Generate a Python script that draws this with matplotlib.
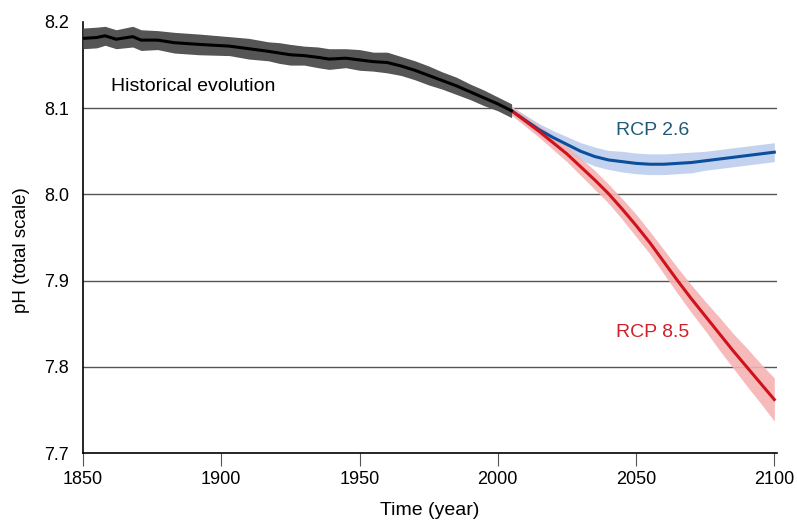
import matplotlib
matplotlib.use("Agg")
import matplotlib.pyplot as plt
import numpy as np

plt.rcParams['font.family'] = ['Liberation Sans', 'DejaVu Sans']

# Historical pH (1850-2005)
hist_years = [1850, 1855, 1858, 1862, 1868, 1871, 1877, 1883, 1892, 1903, 1910, 1917,
              1921, 1925, 1930, 1935, 1939, 1945, 1950, 1955, 1960, 1965, 1970, 1975,
              1980, 1985, 1990, 1995, 2000, 2005]
hist_ph = [8.181, 8.182, 8.184, 8.180, 8.183, 8.179, 8.179, 8.176, 8.174, 8.172, 8.169, 8.166,
           8.164, 8.162, 8.161, 8.159, 8.157, 8.158, 8.156, 8.154, 8.153, 8.149, 8.144, 8.138,
           8.132, 8.126, 8.119, 8.112, 8.105, 8.097]
hist_err = [0.012, 0.012, 0.011, 0.011, 0.012, 0.012, 0.011, 0.012, 0.012, 0.011, 0.012, 0.011,
            0.012, 0.012, 0.011, 0.012, 0.012, 0.011, 0.012, 0.011, 0.012, 0.011, 0.011, 0.011,
            0.010, 0.010, 0.009, 0.009, 0.008, 0.008]

# Projections (2005-2100)
proj_years = [2005, 2010, 2015, 2020, 2025, 2030, 2035, 2040, 2045, 2050, 2055, 2060,
              2065, 2070, 2075, 2080, 2085, 2090, 2095, 2100]
rcp85_ph = [8.097, 8.085, 8.073, 8.060, 8.047, 8.032, 8.017, 8.001, 7.983, 7.964, 7.944, 7.922,
            7.900, 7.879, 7.859, 7.839, 7.819, 7.800, 7.781, 7.762]
rcp85_err = [0.005, 0.006, 0.007, 0.008, 0.009, 0.010, 0.011, 0.011, 0.012, 0.013, 0.013, 0.014,
             0.015, 0.016, 0.017, 0.019, 0.020, 0.022, 0.023, 0.025]
rcp26_ph = [8.097, 8.086, 8.075, 8.066, 8.058, 8.050, 8.044, 8.040, 8.038, 8.036, 8.035, 8.035,
            8.036, 8.037, 8.039, 8.041, 8.043, 8.045, 8.047, 8.049]
rcp26_err = [0.005, 0.006, 0.007, 0.008, 0.009, 0.010, 0.011, 0.011, 0.012, 0.012, 0.012, 0.012,
             0.012, 0.012, 0.011, 0.011, 0.011, 0.011, 0.011, 0.011]

y_ticks = [7.7, 7.8, 7.9, 8.0, 8.1, 8.2]
x_ticks = [1850, 1900, 1950, 2000, 2050, 2100]

fig = plt.figure(figsize=(7.97, 5.2), dpi=100)
ax = fig.add_axes([0.1041, 0.1288, 0.8709, 0.8289])

# grid lines
for y in [7.8, 7.9, 8.0, 8.1]:
    ax.axhline(y, color='#555555', linewidth=1.0, zorder=1)

def band(vals, errs):
    v = np.array(vals)
    e = np.array(errs)
    return v - e, v + e

lo, hi = band(rcp26_ph, rcp26_err)
ax.fill_between(proj_years, lo, hi, color='#c3d3ef', linewidth=0, zorder=2)
lo, hi = band(rcp85_ph, rcp85_err)
ax.fill_between(proj_years, lo, hi, color='#f5b3b3', linewidth=0, alpha=0.9, zorder=3)
lo, hi = band(hist_ph, hist_err)
ax.fill_between(hist_years, lo, hi, color='#555555', linewidth=0, zorder=4)

ax.plot(proj_years, rcp26_ph, color='#0b4f9c', linewidth=2.2, zorder=5)
ax.plot(proj_years, rcp85_ph, color='#d0121b', linewidth=2.2, zorder=6)
ax.plot(hist_years, hist_ph, color='black', linewidth=2.2, zorder=7)

ax.text(1860, 8.125, "Historical evolution", fontsize=14, ha='left', va='center')
ax.text(2056, 8.074, "RCP 2.6", fontsize=14, ha='center', va='center', color='#1f5a7a')
ax.text(2056, 7.840, "RCP 8.5", fontsize=14, ha='center', va='center', color='#d0202a')

ax.set_xlim(1850, 2101)
ax.set_ylim(7.7, 8.2)
ax.set_xticks(x_ticks)
ax.set_yticks(y_ticks)
ax.set_yticklabels([f"{v:.1f}" for v in y_ticks])
ax.tick_params(axis='y', length=0, pad=10, labelsize=13)
ax.tick_params(axis='x', length=9, width=0.8, color='#555555', pad=4, labelsize=13,
               direction='out')

for side in ['top', 'right']:
    ax.spines[side].set_visible(False)
for side in ['left', 'bottom']:
    ax.spines[side].set_linewidth(1.2)
    ax.spines[side].set_color('black')

ax.set_ylabel("pH (total scale)", fontsize=13.5)
ax.yaxis.set_label_coords(-0.076, 0.471)
ax.set_xlabel("Time (year)", fontsize=14, labelpad=10)

plt.savefig("out.png", dpi=100)
